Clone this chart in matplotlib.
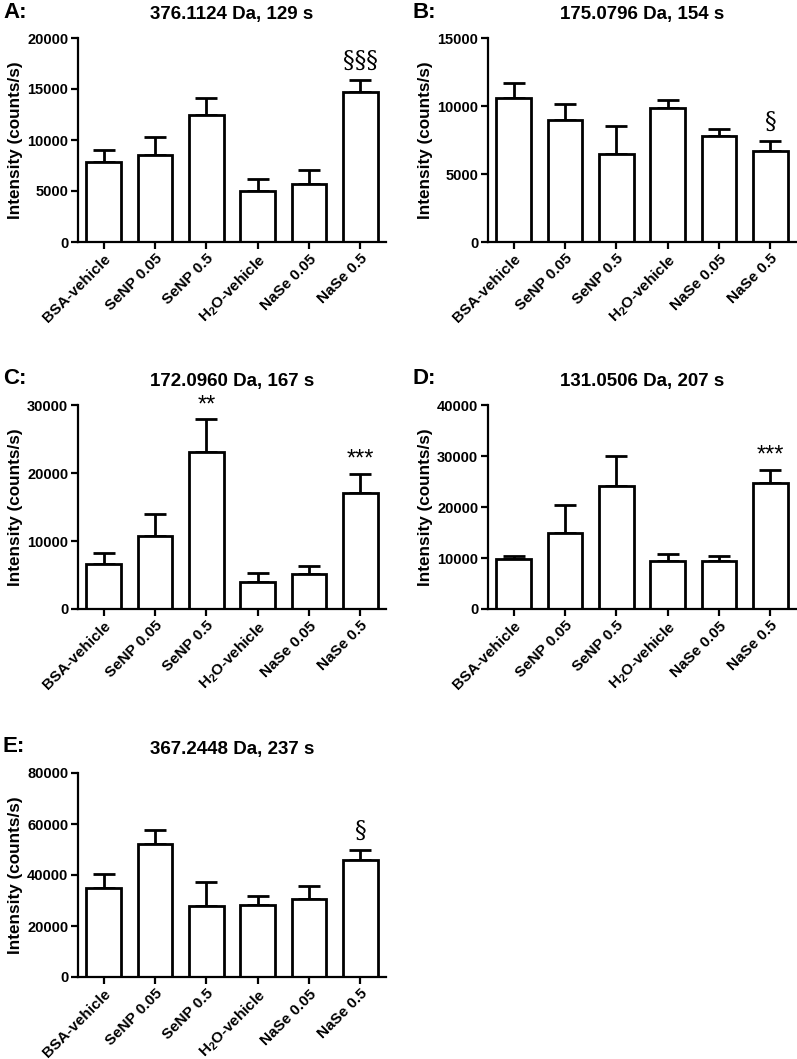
import numpy as np
import matplotlib
matplotlib.use("Agg")
import matplotlib.pyplot as plt

plt.rcParams['font.family'] = ['Liberation Sans', 'DejaVu Sans']
plt.rcParams['font.weight'] = 'bold'
plt.rcParams['mathtext.fontset'] = 'custom'
plt.rcParams['mathtext.rm'] = 'Liberation Sans:bold'
plt.rcParams['mathtext.it'] = 'Liberation Sans:bold'
plt.rcParams['mathtext.bf'] = 'Liberation Sans:bold'

grupos = ['BSA-vehicle', 'SeNP 0.05', 'SeNP 0.5', r'H$_2$O-vehicle', 'NaSe 0.05', 'NaSe 0.5']

# media y limite superior del error (SEM) de cada panel
mediaA = [7840, 8560, 12420, 5030, 5720, 14710]
errA = [9050, 10260, 14090, 6210, 7060, 15880]
mediaB = [10560, 8970, 6500, 9830, 7820, 6670]
errB = [11720, 10150, 8530, 10420, 8310, 7450]
mediaC = [6670, 10690, 23040, 3920, 5100, 17060]
errC = [8240, 14020, 27890, 5250, 6280, 19900]
mediaD = [9800, 14840, 24180, 9410, 9350, 24640]
errD = [10330, 20460, 29940, 10850, 10330, 27320]
mediaE = [35050, 52250, 28010, 28140, 30490, 45860]
errE = [40260, 57460, 37390, 31920, 35570, 49770]

titulos = ['376.1124 Da, 129 s', '175.0796 Da, 154 s', '172.0960 Da, 167 s',
           '131.0506 Da, 207 s', '367.2448 Da, 237 s']
letras = ['A:', 'B:', 'C:', 'D:', 'E:']
ymax = [20000, 15000, 30000, 40000, 80000]
ypaso = [5000, 5000, 10000, 10000, 20000]
marcas = [{5: '§§§'}, {5: '§'}, {2: '**', 5: '***'}, {5: '***'}, {5: '§'}]

medias = [mediaA, mediaB, mediaC, mediaD, mediaE]
errores = [errA, errB, errC, errD, errE]

W, H = 797, 1059
# (izquierda, arriba) en pixeles de cada eje
posiciones = [(78, 38), (488, 38), (78, 405), (488, 405), (78, 773)]
ancho, alto = 308, 204

fig = plt.figure(figsize=(W / 100, H / 100), dpi=100)

for i in range(5):
    izq, arr = posiciones[i]
    ax = fig.add_axes([izq / W, 1 - (arr + alto) / H, ancho / W, alto / H])
    x = np.arange(len(grupos))
    m = np.array(medias[i])
    e = np.array(errores[i])
    ax.bar(x, m, width=0.68, color='white', edgecolor='black', linewidth=2.0, zorder=2)
    ax.errorbar(x, m, yerr=[np.zeros(len(m)), e - m], fmt='none', ecolor='black',
                elinewidth=2.0, capsize=8, capthick=2.0, zorder=1)
    for k, txt in marcas[i].items():
        if '§' in txt:
            ax.annotate(txt, (x[k], e[k]), xytext=(0, 5), textcoords='offset points',
                        ha='center', va='bottom', fontsize=17, fontweight='normal',
                        family='DejaVu Serif')
        else:
            ax.annotate(txt, (x[k], e[k]), xytext=(0, 2), textcoords='offset points',
                        ha='center', va='bottom', fontsize=17, fontweight='normal')
    ax.set_xlim(-0.5, 5.5)
    ax.set_ylim(0, ymax[i])
    ax.set_yticks(np.arange(0, ymax[i] + 1, ypaso[i]))
    ax.set_xticks(x)
    ax.set_xticklabels(grupos, rotation=45, ha='right', rotation_mode='anchor',
                       fontsize=11, fontweight='bold')
    for t in ax.get_yticklabels():
        t.set_fontsize(10.5)
        t.set_fontweight('bold')
    ax.spines['top'].set_visible(False)
    ax.spines['right'].set_visible(False)
    ax.spines['left'].set_linewidth(1.6)
    ax.spines['bottom'].set_linewidth(1.6)
    ax.tick_params(axis='both', direction='out', length=5, width=1.6, pad=2)
    ax.set_ylabel('Intensity (counts/s)', fontsize=12.3, fontweight='bold', labelpad=3)
    ax.set_title(titulos[i], fontsize=13.5, fontweight='bold', pad=14)
    fig.text((izq - 75) / W, 1 - 12 / H - (arr - 38) / H, letras[i], fontsize=16,
             fontweight='bold', va='center', ha='left')

fig.savefig('out.png', dpi=100)
